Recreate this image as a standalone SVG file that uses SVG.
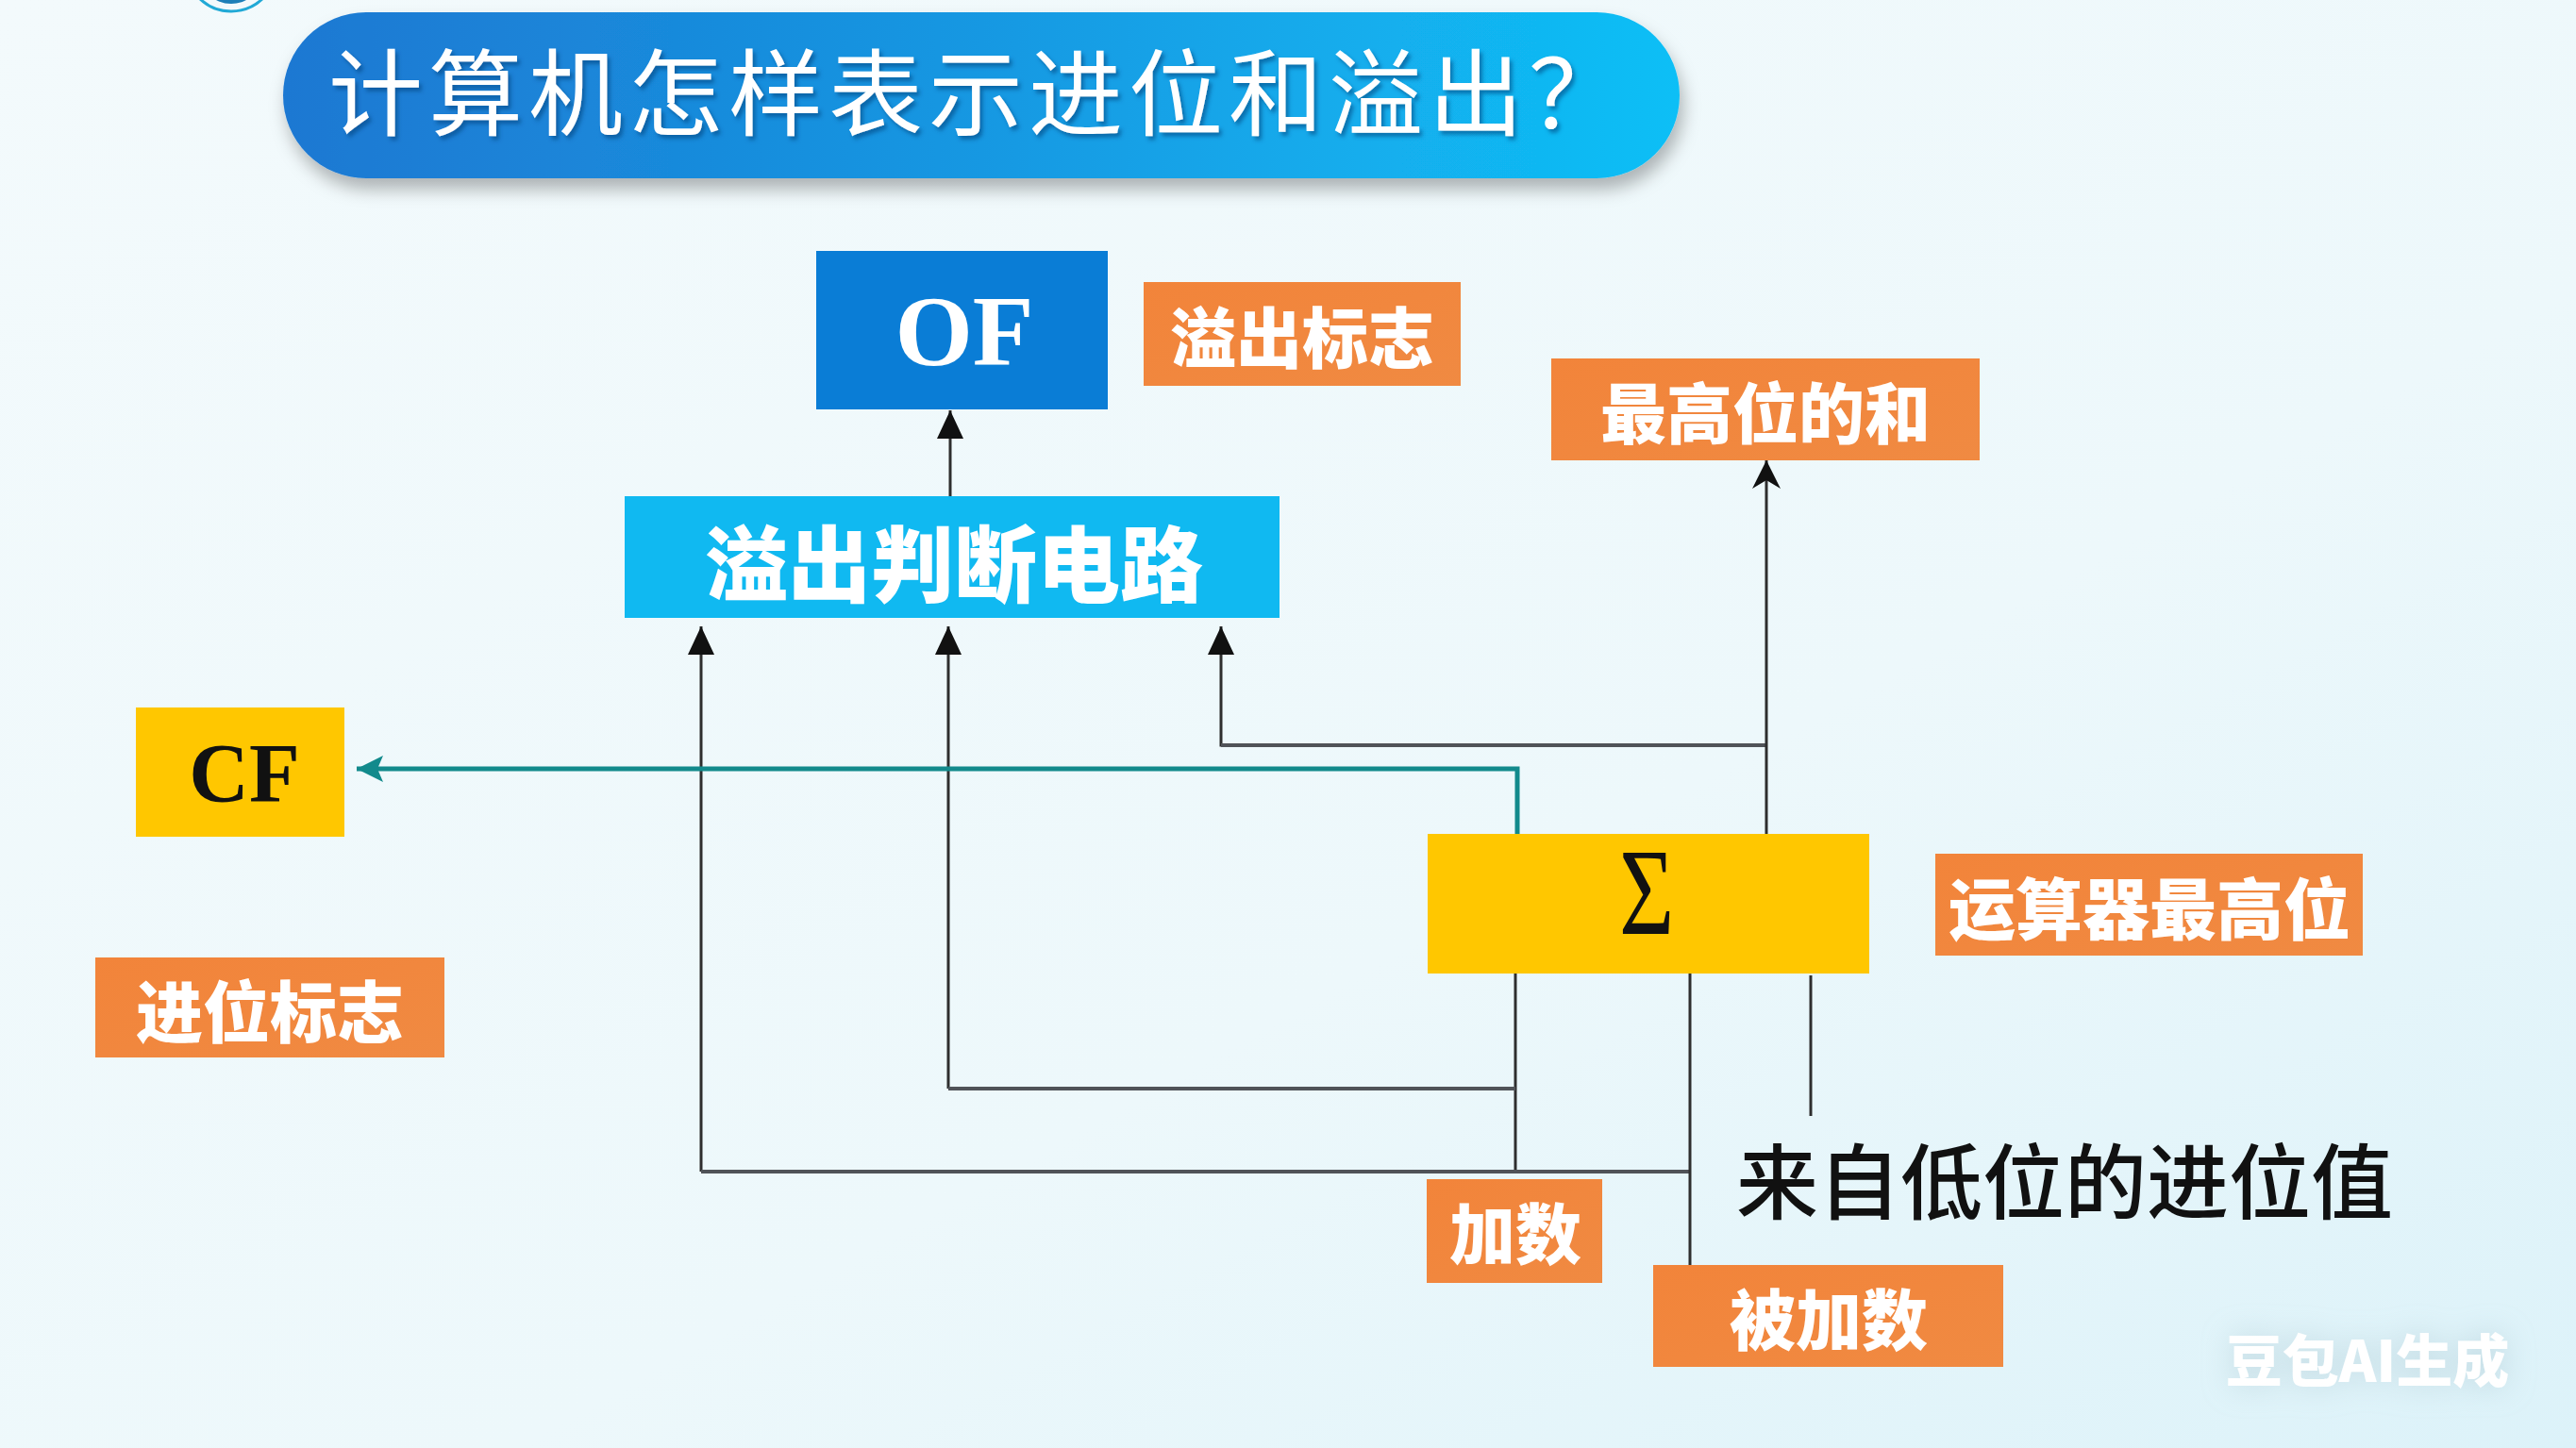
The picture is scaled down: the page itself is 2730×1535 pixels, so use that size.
<svg xmlns="http://www.w3.org/2000/svg" width="2730" height="1535" viewBox="0 0 2730 1535">
  <defs>
    <linearGradient id="bg" x1="0" y1="0" x2="1" y2="1">
      <stop offset="0" stop-color="#F3FAFC"/>
      <stop offset="0.6" stop-color="#EDF8FB"/>
      <stop offset="1" stop-color="#DCF2F9"/>
    </linearGradient>
    <linearGradient id="titleGrad" x1="0" y1="0" x2="1" y2="0">
      <stop offset="0" stop-color="#1E78D2"/>
      <stop offset="0.5" stop-color="#1598E2"/>
      <stop offset="1" stop-color="#10BFF6"/>
    </linearGradient>
    <linearGradient id="orange" x1="0" y1="0" x2="1" y2="1">
      <stop offset="0" stop-color="#F2843A"/>
      <stop offset="1" stop-color="#F08A42"/>
    </linearGradient>
    <filter id="shadow" x="-10%" y="-30%" width="120%" height="170%">
      <feGaussianBlur in="SourceAlpha" stdDeviation="9"/>
      <feOffset dx="4" dy="12" result="b"/>
      <feFlood flood-color="#000000" flood-opacity="0.28"/>
      <feComposite in2="b" operator="in"/>
      <feMerge><feMergeNode/><feMergeNode in="SourceGraphic"/></feMerge>
    </filter>
    <filter id="textShadow" x="-5%" y="-20%" width="110%" height="150%">
      <feGaussianBlur in="SourceAlpha" stdDeviation="2"/>
      <feOffset dx="3" dy="4" result="b"/>
      <feFlood flood-color="#0A3F78" flood-opacity="0.55"/>
      <feComposite in2="b" operator="in"/>
      <feMerge><feMergeNode/><feMergeNode in="SourceGraphic"/></feMerge>
    </filter>
    <filter id="wmShadow" x="-20%" y="-60%" width="140%" height="220%">
      <feGaussianBlur in="SourceAlpha" stdDeviation="16" result="blur"/>
      <feFlood flood-color="#9DBAC4" flood-opacity="0.45"/>
      <feComposite in2="blur" operator="in"/>
      <feMerge><feMergeNode/><feMergeNode in="SourceGraphic"/></feMerge>
    </filter>
    <marker id="arrow" markerUnits="userSpaceOnUse" markerWidth="30" markerHeight="28" refX="30" refY="14" orient="auto">
      <path d="M0,0 L30,14 L0,28 z" fill="#111111"/>
    </marker>
    <marker id="barb" markerUnits="userSpaceOnUse" markerWidth="30" markerHeight="30" refX="30" refY="15" orient="auto">
      <path d="M0,0 L30,15 L0,30 L9,15 z" fill="#111111"/>
    </marker>
    <marker id="tealArrow" markerUnits="userSpaceOnUse" markerWidth="28" markerHeight="28" refX="28" refY="14" orient="auto">
      <path d="M0,0 L28,14 L0,28 L6,14 z" fill="#128A8C"/>
    </marker>
  </defs>
  <style>
    .zh { font-family: "Noto Sans CJK SC", "Noto Sans", sans-serif; }
    .lbl { font-family: "Noto Sans CJK SC", sans-serif; font-weight: 900; fill: #FFFFFF; text-anchor: middle; dominant-baseline: central; }
    .ser { font-family: "Liberation Serif", "DejaVu Serif", serif; font-weight: bold; text-anchor: middle; }
    .orange { fill: url(#orange); }
    .wire { fill: none; stroke: #2E2E2E; stroke-width: 3; }
    .hwire { fill: none; stroke: #505358; stroke-width: 4; }
  </style>

  <rect width="2730" height="1535" fill="url(#bg)"/>

  <!-- decorative ring top-left -->
  <g id="deco">
    <circle cx="245" cy="-36" r="48" fill="none" stroke="#21A9D6" stroke-width="3"/>
    <ellipse cx="245" cy="-30" rx="34" ry="34" fill="#1C7FB8"/>
  </g>

  <!-- title -->
  <g id="title" filter="url(#shadow)">
    <rect x="300" y="13" width="1480" height="176" rx="88" ry="88" fill="url(#titleGrad)"/>
  </g>
  <text class="zh" x="348" y="136" font-size="100" letter-spacing="6" fill="#FFFFFF" filter="url(#textShadow)">计算机怎样表示进位和溢出？</text>

  <!-- connectors -->
  <g id="connectors">
    <line class="wire" x1="1007" y1="526" x2="1007" y2="435" marker-end="url(#arrow)"/>
    <line class="wire" x1="743" y1="1242" x2="743" y2="664" marker-end="url(#arrow)"/>
    <line class="wire" x1="1005" y1="1154" x2="1005" y2="664" marker-end="url(#arrow)"/>
    <polyline class="wire" points="1872,790 1294,790 1294,664" marker-end="url(#arrow)"/>
    <line class="hwire" x1="1294" y1="790" x2="1872" y2="790"/>
    <line class="wire" x1="1872" y1="884" x2="1872" y2="488" marker-end="url(#barb)"/>
    <polyline points="1608,884 1608,815 378,815" fill="none" stroke="#128A8C" stroke-width="5" marker-end="url(#tealArrow)"/>
    <line class="wire" x1="1606" y1="1032" x2="1606" y2="1242"/>
    <line class="hwire" x1="1005" y1="1154" x2="1606" y2="1154"/>
    <line class="hwire" x1="743" y1="1242" x2="1791" y2="1242"/>
    <line class="wire" x1="1791" y1="1032" x2="1791" y2="1341"/>
    <line class="wire" x1="1919" y1="1034" x2="1919" y2="1183"/>
  </g>

  <!-- nodes -->
  <g id="node-of">
    <rect x="865" y="266" width="309" height="168" fill="#0A7DD6"/>
    <text class="ser" x="1022" y="387" font-size="106" fill="#FFFFFF">OF</text>
  </g>
  <g id="node-overflow-flag">
    <rect class="orange" x="1212" y="299" width="336" height="110"/>
    <text class="lbl" x="1380" y="354" font-size="70">溢出标志</text>
  </g>
  <g id="node-msb-sum">
    <rect class="orange" x="1644" y="380" width="454" height="108"/>
    <text class="lbl" x="1871" y="434" font-size="70">最高位的和</text>
  </g>
  <g id="node-overflow-circuit">
    <rect x="662" y="526" width="694" height="129" fill="#10B9F1"/>
    <text class="lbl" x="1011" y="592" font-size="88">溢出判断电路</text>
  </g>
  <g id="node-cf">
    <rect x="144" y="750" width="221" height="137" fill="#FFC700"/>
    <text class="ser" x="259" y="849" font-size="88" fill="#111111">CF</text>
  </g>
  <g id="node-carry-flag">
    <rect class="orange" x="101" y="1015" width="370" height="106"/>
    <text class="lbl" x="286" y="1068" font-size="71">进位标志</text>
  </g>
  <g id="node-sigma">
    <rect x="1513" y="884" width="468" height="148" fill="#FFC700"/>
    <text transform="translate(1745,990) scale(0.8,1.05)" x="0" y="0" font-family="Liberation Serif, DejaVu Serif, serif" font-size="125" style="font-weight:normal" text-anchor="middle" fill="#111111">Σ</text>
  </g>
  <g id="node-alu-msb">
    <rect class="orange" x="2051" y="905" width="453" height="108"/>
    <text class="lbl" x="2278" y="959" font-size="71">运算器最高位</text>
  </g>
  <g id="node-addend">
    <rect class="orange" x="1512" y="1250" width="186" height="110"/>
    <text class="lbl" x="1606" y="1304" font-size="70">加数</text>
  </g>
  <g id="node-augend">
    <rect class="orange" x="1752" y="1341" width="371" height="108"/>
    <text class="lbl" x="1938" y="1395" font-size="70">被加数</text>
  </g>
  <g id="node-carry-in">
    <text class="zh" x="1840" y="1248" font-size="87" font-weight="500" fill="#111111" dominant-baseline="central">来自低位的进位值</text>
  </g>

  <!-- watermark -->
  <text x="2509" y="1438" font-family="Noto Sans CJK SC, sans-serif" font-weight="900" font-size="60" fill="#FFFFFF" text-anchor="middle" dominant-baseline="central" filter="url(#wmShadow)">豆包AI生成</text>
</svg>
